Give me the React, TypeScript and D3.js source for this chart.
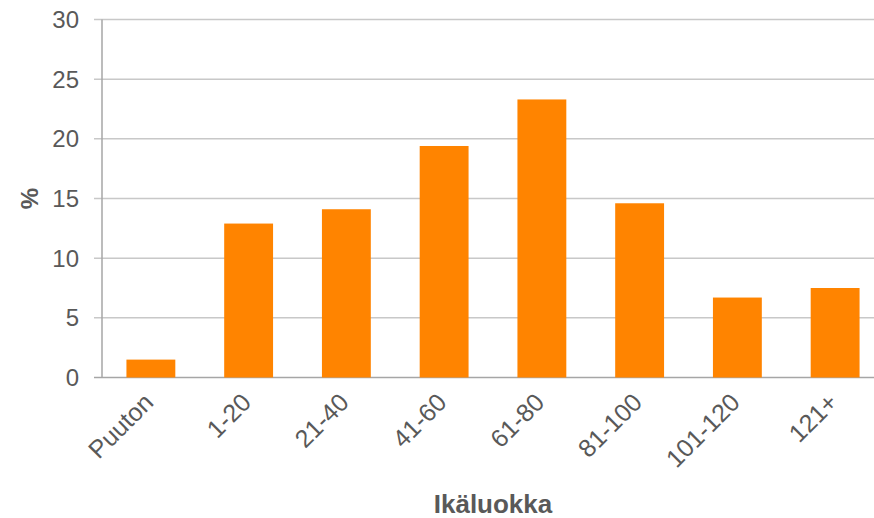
import React from "react";
import * as d3 from "d3";

const categories = ["Puuton", "1-20", "21-40", "41-60", "61-80", "81-100", "101-120", "121+"];
const values = [1.5, 12.9, 14.1, 19.4, 23.3, 14.6, 6.7, 7.5];
const yTicks = [0, 5, 10, 15, 20, 25, 30];
const xTitle = "Ikäluokka";
const yTitle = "%";

const W = 874;
const H = 518;
const left = 102;
const right = 884;
const top = 19.5;
const bottom = 377.5;

export default function App() {
  const x = d3.scaleBand<string>().domain(categories).range([left, right]).paddingInner(0.5).paddingOuter(0.25);
  const y = d3.scaleLinear().domain([0, 30]).range([bottom, top]);
  const font = "'Liberation Sans', Arial, sans-serif";
  const textColor = "#595959";
  return (
    <svg width={W} height={H} style={{ position: "absolute", left: 0, top: 0, background: "#fff" }}>
      {yTicks.map((t) => (
        <g key={t}>
          <line x1={left - 8} x2={W} y1={y(t)} y2={y(t)} stroke={t === 0 ? "#a6a6a6" : "#c8c8c8"} strokeWidth={1.5} />
          <text x={79} y={y(t)} dy="0.35em" textAnchor="end" fontFamily={font} fontSize={24} fill={textColor}>
            {t}
          </text>
        </g>
      ))}
      <line x1={left} x2={left} y1={top} y2={bottom} stroke="#a6a6a6" strokeWidth={1.5} />
      {categories.map((c, i) => (
        <rect key={c} x={x(c)} y={y(values[i])} width={x.bandwidth()} height={bottom - y(values[i])} fill="#ff8400" />
      ))}
      {categories.map((c) => {
        const cx = (x(c) as number) + x.bandwidth() / 2 + 4;
        const cy = 404;
        return (
          <text key={c} x={cx} y={cy} textAnchor="end" transform={`rotate(-45 ${cx} ${cy})`} fontFamily={font} fontSize={25} fill={textColor}>
            {c}
          </text>
        );
      })}
      <text x={(left + right) / 2} y={513} textAnchor="middle" fontFamily={font} fontSize={26} fontWeight="bold" fill={textColor}>
        {xTitle}
      </text>
      <text x={0} y={0} transform={`translate(38 ${(top + bottom) / 2}) rotate(-90)`} textAnchor="middle" fontFamily={font} fontSize={24} fontWeight="bold" fill={textColor}>
        {yTitle}
      </text>
    </svg>
  );
}
